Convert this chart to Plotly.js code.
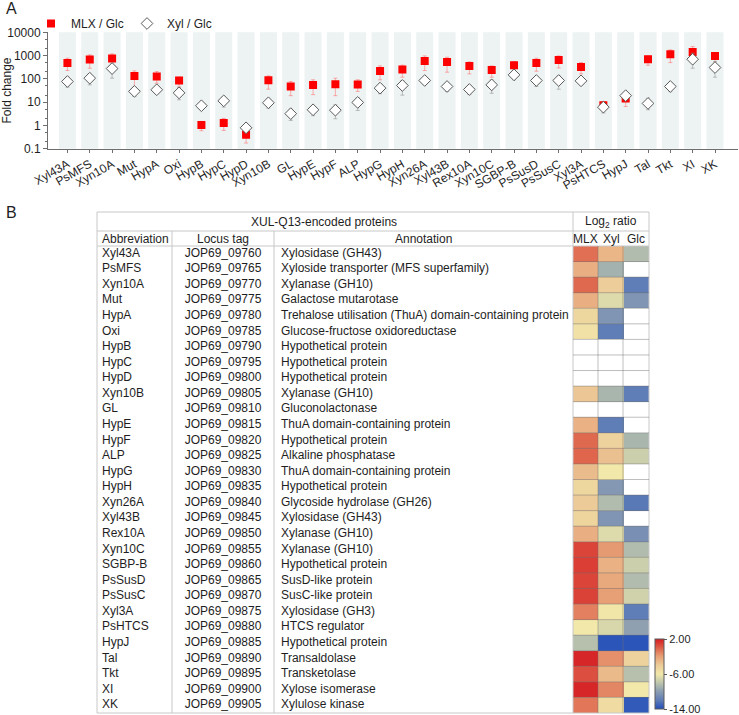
<!DOCTYPE html>
<html><head><meta charset="utf-8">
<script src="https://cdn.plot.ly/plotly-3.0.1.min.js"></script>
<style>html,body{margin:0;padding:0;background:#fff}#chart{width:739px;height:715px}</style>
</head><body><div id="chart"></div>
<script>
// ---------- Panel A data ----------
const categories = ['Xyl43A','PsMFS','Xyn10A','Mut','HypA','Oxi','HypB','HypC','HypD','Xyn10B','GL','HypE','HypF','ALP','HypG','HypH','Xyn26A','Xyl43B','Rex10A','Xyn10C','SGBP-B','PsSusD','PsSusC','Xyl3A','PsHTCS','HypJ','Tal','Tkt','XI','XK'];
const mlx   = [485,675,743,134,126,85,1.03,1.26,0.40,88,47,55,59,57,220,251,591,535,361,243,385,485,652,327,7.4,14.4,697,1140,1436,968];
const mlxHi = [769,1069,1178,220,206,118,1.48,2.0,0.65,134,77,91,107,91,361,385,968,849,535,361,553,769,968,501,10.3,23,968,1750,2432,1345];
const mlxLo = [228,286,361,44,65,44,0.59,0.61,0.175,36,19,21,19,29,91,118,228,193,164,118,243,213,296,164,5.4,6.5,385,501,968,469];
const xyl   = [77,107,277,29,34,25,7.0,11.4,0.79,9.4,3.2,4.7,4.5,9.7,40,52,85,47,35,55,148,85,85,82,6.1,19,8.8,47,697,306];
const xylHi = [118,164,469,40,44,44,7.6,17.5,1.03,13.4,5.0,7.0,7.7,15.3,61,85,107,65,50,91,213,118,134,126,7.9,26,14.8,70,1259,553];
const xylLo = [44,55,107,17.5,23,12.6,6.4,6.1,0.61,5.5,1.64,2.6,1.93,4.4,23,20,61,29,21,24,91,47,36,55,3.4,14.4,4.7,28,286,118];
const yTickVals = [0.1,1,10,100,1000,10000];
const yTickText = ['0.1','1','10','100','1000','10000'];

// ---------- Panel B data ----------
const locusTags = ['JOP69_09760','JOP69_09765','JOP69_09770','JOP69_09775','JOP69_09780','JOP69_09785','JOP69_09790','JOP69_09795','JOP69_09800','JOP69_09805','JOP69_09810','JOP69_09815','JOP69_09820','JOP69_09825','JOP69_09830','JOP69_09835','JOP69_09840','JOP69_09845','JOP69_09850','JOP69_09855','JOP69_09860','JOP69_09865','JOP69_09870','JOP69_09875','JOP69_09880','JOP69_09885','JOP69_09890','JOP69_09895','JOP69_09900','JOP69_09905'];
const annotationsTxt = ['Xylosidase (GH43)','Xyloside transporter (MFS superfamily)','Xylanase (GH10)','Galactose mutarotase','Trehalose utilisation (ThuA) domain-containing protein','Glucose-fructose oxidoreductase','Hypothetical protein','Hypothetical protein','Hypothetical protein','Xylanase (GH10)','Gluconolactonase','ThuA domain-containing protein','Hypothetical protein','Alkaline phosphatase','ThuA domain-containing protein','Hypothetical protein','Glycoside hydrolase (GH26)','Xylosidase (GH43)','Xylanase (GH10)','Xylanase (GH10)','Hypothetical protein','SusD-like protein','SusC-like protein','Xylosidase (GH3)','HTCS regulator','Hypothetical protein','Transaldolase','Transketolase','Xylose isomerase','Xylulose kinase'];
const ratioCols = ['MLX','Xyl','Glc'];
const mlxLog = [-0.5,-2.7,-0.3,-2.7,-4.8,-5.5,null,null,null,-3.8,null,-2.8,-0.3,-0.2,-3.3,-4.8,-4.0,-4.6,-2.7,0.8,1.0,0.8,0.9,-1.0,-6.0,-8.3,1.7,0.5,1.7,-0.7];
const xylLog = [-3.0,-9.0,-4.2,-6.8,-10.5,-12.0,null,null,null,-8.8,null,-12.0,-4.5,-3.5,-6.0,-10.3,-8.5,-10.5,-6.8,-1.8,-2.8,-2.4,-2.0,-5.8,-7.0,-13.7,-1.5,-3.2,-1.2,-5.2];
const glcLog = [-8.5,null,-12.0,-10.5,null,null,null,null,null,-12.0,null,null,-8.8,-7.5,null,null,-12.2,null,-10.8,-8.5,-7.5,-8.5,-7.3,-12.0,-9.8,-13.7,-4.5,-8.3,-6.0,-13.5];
const cbTickVals = [2,-6,-14];
const cbTickText = ['2.00','-6.00','-14.00'];

// ---------- geometry helpers (pixels -> paper / row units) ----------
const W = 739, H = 715;
const PX = p => p / W, PY = p => 1 - p / H;
const ROW = (713 - 246) / 30;            // row pitch in px
const RY = p => -0.5 - (246 - p) / ROW;  // px -> y2 row units
const FONT = 'Arial, "Liberation Sans", sans-serif';
const TXT = 'rgb(30,30,30)';
const idx = categories.map((c, i) => i);

const traces = [];
traces.push({
  type:'scatter', mode:'markers', name:'MLX / Glc', x: categories, y: mlx,
  xaxis:'x', yaxis:'y',
  marker:{symbol:'square', size:8, color:'rgb(255,0,0)'},
  error_y:{type:'data', symmetric:false, array: mlx.map((v,i)=>mlxHi[i]-v), arrayminus: mlx.map((v,i)=>v-mlxLo[i]), color:'rgba(255,110,110,0.55)', thickness:1, width:2}
});
traces.push({
  type:'scatter', mode:'markers', name:'Xyl / Glc', x: categories, y: xyl,
  xaxis:'x', yaxis:'y',
  marker:{symbol:'diamond', size:9, color:'white', line:{color:'rgb(90,90,90)', width:1}},
  error_y:{type:'data', symmetric:false, array: xyl.map((v,i)=>xylHi[i]-v), arrayminus: xyl.map((v,i)=>v-xylLo[i]), color:'rgba(150,150,150,0.6)', thickness:1, width:2}
});

// heatmap of log2 ratios
traces.push({
  type:'heatmap', x: ratioCols, y: idx,
  z: idx.map(i => [mlxLog[i], xylLog[i], glcLog[i]]),
  xaxis:'x3', yaxis:'y2', zmin:-14, zmax:2, showlegend:false, hoverongaps:false,
  colorscale:[[0,'rgb(35,78,185)'],[0.125,'rgb(95,125,182)'],[0.25,'rgb(138,157,178)'],[0.375,'rgb(190,198,172)'],[0.5,'rgb(242,232,170)'],[0.625,'rgb(236,203,152)'],[0.75,'rgb(231,160,118)'],[0.875,'rgb(222,95,72)'],[1,'rgb(214,28,34)']],
  colorbar:{x:PX(655), xanchor:'left', y:PY(709), yanchor:'bottom', len:(709-639)/H, lenmode:'fraction', thickness:9, thicknessmode:'pixels',
    outlinewidth:1, outlinecolor:'rgb(90,90,90)', xpad:0, ypad:0,
    tickvals:cbTickVals, ticktext:cbTickText, ticks:'outside', ticklen:3, tickcolor:'rgb(90,90,90)',
    tickfont:{family:FONT, size:11, color:TXT}}
});

// table text columns
const textFont = {family:FONT, size:12, color:TXT};
traces.push({type:'scatter', mode:'text', x: idx.map(()=>102), y: idx, text: categories, textposition:'middle right', textfont:textFont, xaxis:'x2', yaxis:'y2', showlegend:false, hoverinfo:'skip'});
traces.push({type:'scatter', mode:'text', x: idx.map(()=>223), y: idx, text: locusTags, textposition:'middle center', textfont:textFont, xaxis:'x2', yaxis:'y2', showlegend:false, hoverinfo:'skip'});
traces.push({type:'scatter', mode:'text', x: idx.map(()=>281), y: idx, text: annotationsTxt, textposition:'middle right', textfont:textFont, xaxis:'x2', yaxis:'y2', showlegend:false, hoverinfo:'skip'});

// shapes
const shapes = [];
categories.forEach((c,i)=>{
  shapes.push({type:'rect', xref:'x', yref:'y domain', x0:i-0.38, x1:i+0.38, y0:0, y1:1, fillcolor:'rgb(237,242,242)', line:{width:0}, layer:'below'});
});
const tl = {color:'rgb(200,200,200)', width:1};
const hline = (py, x0, x1, line) => shapes.push({type:'line', xref:'paper', yref:'paper', x0:PX(x0), x1:PX(x1), y0:PY(py), y1:PY(py), line:line||tl});
const vline = (px, y0, y1, line) => shapes.push({type:'line', xref:'paper', yref:'paper', x0:PX(px), x1:PX(px), y0:PY(y0), y1:PY(y1), line:line||tl});
hline(212, 97, 649); hline(231, 97, 649); hline(246, 97, 649); hline(713, 97, 649);
vline(97, 212, 713); vline(649, 212, 713); vline(573, 212, 713); vline(172, 231, 713); vline(274, 231, 713);
const cl = {color:'rgba(110,110,110,0.45)', width:1};
vline(598, 246, 713, cl); vline(623, 246, 713, cl);
idx.slice(0, -1).forEach(i => shapes.push({type:'line', xref:'paper', yref:'y2', x0:PX(573), x1:PX(649), y0:i+0.5, y1:i+0.5, line:cl}));

const hdrFont = {family:FONT, size:12, color:TXT};
const H1 = RY(221.5), H2 = RY(238.5);
const annotations = [
  {text:'A', xref:'paper', yref:'paper', x:PX(4), y:PY(8), xanchor:'left', yanchor:'middle', showarrow:false, font:{family:FONT, size:16, color:TXT}},
  {text:'B', xref:'paper', yref:'paper', x:PX(4), y:PY(212), xanchor:'left', yanchor:'middle', showarrow:false, font:{family:FONT, size:16, color:TXT}},
  {text:'XUL-Q13-encoded proteins', xref:'x2', yref:'y2', x:324, y:H1, yanchor:'middle', showarrow:false, font:hdrFont},
  {text:'Log<sub>2</sub> ratio', xref:'x3', yref:'y2', x:1, y:H1, yanchor:'middle', showarrow:false, font:hdrFont},
  {text:'Abbreviation', xref:'x2', yref:'y2', x:135, y:H2, yanchor:'middle', showarrow:false, font:hdrFont},
  {text:'Locus tag', xref:'x2', yref:'y2', x:223, y:H2, yanchor:'middle', showarrow:false, font:hdrFont},
  {text:'Annotation', xref:'x2', yref:'y2', x:423, y:H2, yanchor:'middle', showarrow:false, font:hdrFont},
  {text:'MLX', xref:'x3', yref:'y2', x:0, y:H2, yanchor:'middle', showarrow:false, font:hdrFont},
  {text:'Xyl', xref:'x3', yref:'y2', x:1, y:H2, yanchor:'middle', showarrow:false, font:hdrFont},
  {text:'Glc', xref:'x3', yref:'y2', x:2, y:H2, yanchor:'middle', showarrow:false, font:hdrFont}
];

const axisCol = 'rgb(110,110,110)';
const layout = {
  width:W, height:H, margin:{l:0,r:0,t:0,b:0}, paper_bgcolor:'white', plot_bgcolor:'rgba(0,0,0,0)',
  font:{family:FONT, size:12, color:TXT},
  showlegend:true,
  legend:{orientation:'h', x:PX(31), y:PY(9), xanchor:'left', yanchor:'top', entrywidth:51, entrywidthmode:'pixels', font:{family:FONT, size:12, color:TXT}, bgcolor:'rgba(0,0,0,0)', itemwidth:30, tracegroupgap:0},
  xaxis:{domain:[PX(48), PX(738)], anchor:'y', type:'category', categoryorder:'array', categoryarray:categories, range:[-0.87, 30.03],
    showline:true, linecolor:axisCol, linewidth:1, ticks:'outside', ticklen:3, tickcolor:axisCol, tickangle:-30, showgrid:false, zeroline:false,
    tickfont:{family:FONT, size:12, color:TXT}},
  yaxis:{domain:[PY(148.7), PY(32.3)], anchor:'x', type:'log', range:[-1, 4], tickvals:yTickVals, ticktext:yTickText,
    showline:true, linecolor:axisCol, linewidth:1, ticks:'outside', ticklen:4, tickcolor:axisCol, showgrid:false, zeroline:false,
    minor:{ticks:'outside', ticklen:2, tickcolor:axisCol, showgrid:false},
    tickfont:{family:FONT, size:12, color:TXT},
    title:{text:'Fold change', font:{family:FONT, size:12, color:TXT}, standoff:6}},
  xaxis2:{domain:[PX(97), PX(573)], anchor:'y2', range:[97, 573], visible:false, fixedrange:true},
  xaxis3:{domain:[PX(573), PX(649)], anchor:'y2', type:'category', categoryorder:'array', categoryarray:ratioCols, range:[-0.5, 2.5], visible:false, fixedrange:true},
  yaxis2:{domain:[PY(713), PY(212)], anchor:'x2', range:[29.5, RY(212)], visible:false, fixedrange:true},
  shapes:shapes, annotations:annotations
};

Plotly.newPlot('chart', traces, layout, {displayModeBar:false, staticPlot:true});
</script>
</body></html>
